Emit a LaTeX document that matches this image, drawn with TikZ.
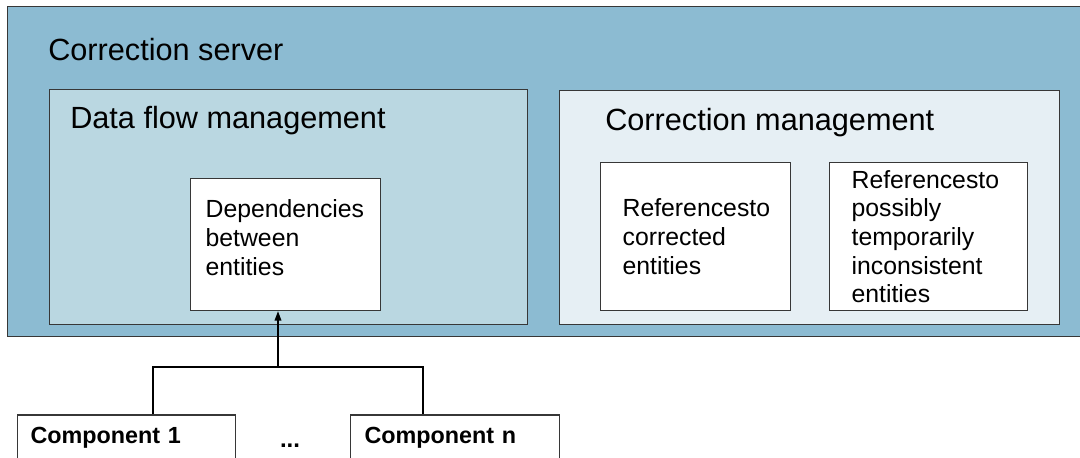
\documentclass[tikz,border=0pt]{standalone}
\usepackage{fontspec}
\setmainfont{Liberation Sans}
\usetikzlibrary{arrows.meta}
\definecolor{serverblue}{RGB}{140,187,210}
\definecolor{flowblue}{RGB}{186,215,225}
\definecolor{corrblue}{RGB}{230,239,244}
\definecolor{edgegray}{RGB}{55,55,55}
\tikzset{
  boxline/.style={draw=edgegray,line width=0.9pt},
  groupbox/.style={boxline,rectangle,anchor=north west,inner sep=0pt},
  titletext/.style={anchor=base west,inner sep=0pt,font=\fontsize{23}{27}\selectfont},
  itembox/.style={boxline,rectangle,fill=white,anchor=north west,align=left,inner ysep=0pt,font=\fontsize{18.6}{21.5}\selectfont},
  compbox/.style={boxline,rectangle,fill=white,anchor=base west,align=left,inner ysep=0pt,text height=21pt,text depth=25pt,font=\fontsize{17.5}{20}\selectfont\bfseries}
}
\begin{document}
\begin{tikzpicture}[x=0.75pt,y=-0.75pt]
        \clip (0,0) rectangle (1080,457);
        \fill[white] (0,0) rectangle (1080,457);
        % server and its two parts
        \node[groupbox,fill=serverblue,minimum width=812.25pt,minimum height=247.5pt] at (7,6) (server) {};
        \node[titletext] at (48,60) (servertitle) {Correction server};
        \node[groupbox,fill=flowblue,minimum width=358.5pt,minimum height=176.25pt] at (49,89) (flow) {};
        \node[titletext] at (70,128) (flowtitle) {Data flow management};
        \node[groupbox,fill=corrblue,minimum width=375pt,minimum height=175.5pt] at (559,90) (corr) {};
        \node[titletext] at (605,130) (corrtitle) {Correction management};
        % inner boxes
        \node[itembox,inner xsep=11.25pt,text width=120pt,minimum height=99pt] at (190,178) (deps) {Dependencies\\between\\entities\\[-11pt]\mbox{}};
        \node[itembox,inner xsep=16.5pt,text width=109.5pt,minimum height=111pt] at (600,162) (corrref) {Referencesto\\corrected\\entities};
        \node[itembox,inner xsep=16.5pt,text width=115.5pt,minimum height=111pt] at (829,162) (tempref) {Referencesto\\possibly\\temporarily\\inconsistent\\entities};
        % components
        \node[compbox,inner xsep=9.75pt,text width=144pt] at (17,443) (comp1) {Component 1};
        \node[compbox,inner xsep=10.5pt,text width=135.75pt] at (350,443) (compn) {Component n};
        \node[font=\fontsize{18}{20}\selectfont\bfseries] at (290,446) (dots) {...};
        \coordinate (bus1) at (153,367);
        \coordinate (busn) at (423,367);
        \coordinate (tap) at (278,367);
        \draw[line width=0.9pt] (comp1.north -| bus1) -- (bus1) -- (busn) -- (compn.north -| busn);
        \draw[line width=0.9pt,-{Triangle[length=7pt,width=5pt]}] (tap) -- (tap |- deps.south);
\end{tikzpicture}
\end{document}
